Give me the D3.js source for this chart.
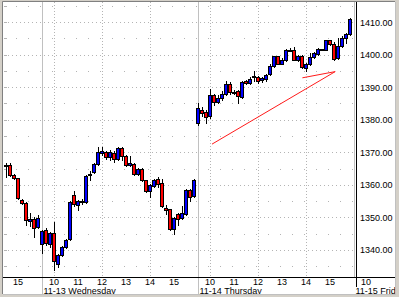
<!DOCTYPE html>
<html>
<head>
<meta charset="utf-8">
<script src="https://cdn.jsdelivr.net/npm/d3@7.9.0/dist/d3.min.js"></script>
<style>
  html, body { margin: 0; padding: 0; background: #d4d0c8; }
  svg { display: block; }
  text { font-family: "Liberation Sans", Arial, sans-serif; font-size: 9px; fill: #000; }
</style>
</head>
<body>
<svg id="chart" width="399" height="297"></svg>
<script>
// 10-minute bars: 9 from 11-12 afternoon, then 11-13 and 11-14 full sessions
const opens = [
  1366.1, 1366.1, 1363.0, 1362.0, 1355.2, 1354.3, 1349.0, 1349.4, 1347.0,
  1341.9, 1346.0, 1341.7, 1345.2, 1335.7, 1338.3, 1341.0, 1343.4, 1357.0, 1353.7,
  1354.7, 1354.7, 1363.0, 1364.0, 1366.4, 1369.8, 1370.2, 1368.4, 1369.9, 1367.9,
  1371.3, 1368.9, 1366.0, 1366.4, 1363.2, 1365.0, 1361.4, 1358.1, 1359.7, 1361.9,
  1360.4, 1353.0, 1352.4, 1346.3, 1350.9, 1349.9, 1351.1, 1358.3, 1356.6,
  1379.0, 1383.0, 1382.3, 1381.0, 1387.7, 1385.6, 1386.6, 1388.0, 1391.1, 1388.6,
  1388.7, 1387.0, 1391.8, 1391.3, 1393.3, 1393.1, 1392.1, 1392.5, 1394.0, 1396.6,
  1399.5, 1397.2, 1398.5, 1401.5, 1401.3, 1398.5, 1399.7, 1395.9, 1397.2, 1399.3,
  1400.3, 1401.7, 1401.6, 1404.4, 1403.3, 1399.0, 1402.6, 1405.2, 1406.4
];
const highs = [
  1366.6, 1366.6, 1363.2, 1362.2, 1355.7, 1354.7, 1351.3, 1350.0, 1350.8,
  1346.1, 1346.8, 1345.5, 1348.6, 1338.6, 1341.3, 1343.3, 1355.0, 1358.0, 1355.2,
  1355.5, 1362.9, 1364.3, 1366.8, 1371.7, 1371.5, 1370.5, 1370.6, 1370.3, 1371.6,
  1371.6, 1369.2, 1369.0, 1366.8, 1365.3, 1365.3, 1361.6, 1360.2, 1361.7, 1362.3,
  1361.8, 1353.8, 1352.7, 1350.2, 1351.2, 1353.5, 1358.6, 1358.7, 1361.7,
  1385.0, 1384.0, 1383.0, 1389.4, 1388.0, 1387.5, 1388.7, 1391.8, 1391.5, 1389.1,
  1389.0, 1392.0, 1392.2, 1393.0, 1395.0, 1393.3, 1393.0, 1394.0, 1397.0, 1399.7,
  1399.7, 1399.0, 1401.9, 1402.2, 1402.3, 1400.0, 1400.0, 1397.5, 1400.5, 1400.8,
  1402.0, 1401.9, 1404.6, 1404.6, 1403.8, 1405.2, 1405.8, 1406.6, 1411.2
];
const lows = [
  1362.5, 1362.8, 1361.8, 1355.5, 1354.2, 1347.5, 1347.2, 1343.9, 1346.8,
  1339.0, 1341.5, 1341.0, 1333.9, 1334.8, 1338.0, 1340.7, 1343.0, 1353.6, 1352.2,
  1354.0, 1354.5, 1361.6, 1363.5, 1366.0, 1369.2, 1368.0, 1367.5, 1366.9, 1367.5,
  1367.5, 1365.8, 1365.7, 1363.0, 1363.0, 1361.3, 1357.8, 1356.3, 1359.4, 1359.3,
  1353.2, 1350.9, 1346.0, 1345.0, 1347.6, 1349.6, 1350.8, 1355.0, 1356.3,
  1378.5, 1381.0, 1379.0, 1380.5, 1384.6, 1385.0, 1386.0, 1387.5, 1388.0, 1388.0,
  1385.3, 1386.8, 1391.0, 1391.0, 1391.8, 1391.3, 1391.5, 1392.0, 1393.8, 1396.3,
  1397.0, 1397.0, 1398.0, 1401.0, 1398.3, 1398.0, 1395.8, 1395.0, 1396.8, 1399.0,
  1400.0, 1401.3, 1401.3, 1403.0, 1398.5, 1398.8, 1402.5, 1403.6, 1406.0
];
const closes = [
  1366.0, 1363.0, 1362.0, 1355.8, 1354.5, 1349.1, 1349.4, 1346.8, 1349.9,
  1345.8, 1342.1, 1345.2, 1336.5, 1338.3, 1340.8, 1342.9, 1354.7, 1354.0, 1354.9,
  1354.9, 1362.7, 1363.4, 1366.4, 1370.0, 1370.3, 1368.4, 1370.2, 1367.8, 1371.3,
  1368.9, 1366.1, 1366.8, 1363.2, 1365.0, 1361.6, 1358.1, 1359.9, 1361.4, 1360.1,
  1353.5, 1352.3, 1346.3, 1349.9, 1349.6, 1351.3, 1358.3, 1356.1, 1361.4,
  1383.5, 1382.0, 1380.8, 1387.7, 1385.6, 1386.6, 1388.0, 1391.1, 1388.4, 1388.4,
  1387.4, 1391.5, 1391.3, 1392.6, 1393.2, 1391.8, 1392.8, 1393.8, 1396.6, 1399.5,
  1397.2, 1398.5, 1401.6, 1401.4, 1398.5, 1399.7, 1396.2, 1397.2, 1399.3, 1400.5,
  1401.8, 1401.6, 1404.4, 1403.3, 1398.7, 1402.6, 1405.2, 1406.4, 1411.0
];

// price ticks on the right
const priceTicks = [1340, 1350, 1360, 1370, 1380, 1390, 1400, 1410];
const minorTicks = [1335, 1345, 1355, 1365, 1375, 1385, 1395, 1405, 1415];

// sessions: bar index of the 9:30 bar, date label
const dayStarts = [9, 48, 87];
const dayLabels = ['11-13 Wednesday', '11-14 Thursday', '11-15 Friday'];

// hour labels along the bottom (bar index of the hour)
const hourIdx = [3, 12, 18, 24, 30, 36, 42, 51, 57, 63, 69, 75, 81, 90];
const hourLabels = ['15', '10', '11', '12', '13', '14', '15', '10', '11', '12', '13', '14', '15', '10'];
// dotted verticals at 10, 12 and 14 o'clock
const gridIdx = [12, 24, 36, 51, 63, 75];

// hand-drawn red trend line (bar index, price)
const arrowIdx = [51.5, 82.3, 74.1];
const arrowPrice = [1372.5, 1394.8, 1392.9];

const svg = d3.select('#chart');
const pLeft = 3, pRight = 395, pTop = 2, pBottom = 294;
const plotRight = 357, plotBottom = 277;

let x = d3.scaleLinear().domain([0, 87]).range([6, 354]);
let y = d3.scaleLinear().domain([1340, 1410]).range([249.8, 22.2]);
const crisp = (v) => Math.round(v) + 0.5;

// panel
svg.append('rect')
  .attr('x', pLeft).attr('y', pTop)
  .attr('width', pRight - pLeft).attr('height', pBottom - pTop)
  .attr('fill', '#fff');
svg.append('path')
  .attr('d', `M${pLeft - 0.5},${pBottom} V${pTop - 0.5} H${pRight}`)
  .attr('stroke', '#808080').attr('fill', 'none');
svg.append('path')
  .attr('d', `M${pLeft},${pBottom + 0.5} H${pRight + 0.5} V${pTop}`)
  .attr('stroke', '#c0c0c0').attr('fill', 'none');

let clip = svg.append('clipPath').attr('id', 'panel');
clip.append('rect').attr('x', pLeft).attr('y', pTop).attr('width', pRight - pLeft).attr('height', pBottom - pTop);
let g = svg.append('g').attr('clip-path', 'url(#panel)');

// horizontal grid
minorTicks.forEach((v) => {
  g.append('line')
    .attr('x1', pLeft + 1).attr('x2', plotRight)
    .attr('y1', crisp(y(v))).attr('y2', crisp(y(v)))
    .attr('stroke', '#b4b4b4').attr('stroke-dasharray', '1,11');
});
priceTicks.forEach((v) => {
  g.append('line')
    .attr('x1', pLeft + 1).attr('x2', plotRight)
    .attr('y1', crisp(y(v))).attr('y2', crisp(y(v)))
    .attr('stroke', '#b4b4b4').attr('stroke-dasharray', '1,3');
});
priceTicks.concat(minorTicks).forEach((v) => {
  g.append('line')
    .attr('x1', pLeft + 1).attr('x2', pLeft + 4)
    .attr('y1', crisp(y(v))).attr('y2', crisp(y(v)))
    .attr('stroke', '#b4b4b4');
});

// vertical grid
gridIdx.forEach((i) => {
  g.append('line')
    .attr('x1', crisp(x(i))).attr('x2', crisp(x(i)))
    .attr('y1', pTop).attr('y2', plotBottom)
    .attr('stroke', '#b4b4b4').attr('stroke-dasharray', '1,2');
});
dayStarts.forEach((i, k) => {
  g.append('line')
    .attr('x1', crisp(x(i))).attr('x2', crisp(x(i)))
    .attr('y1', pTop).attr('y2', k < 2 ? pBottom : plotBottom)
    .attr('stroke', '#c0c0c0');
});

// candles
opens.forEach((o, i) => {
  let c = closes[i];
  let cx = Math.round(x(i));
  g.append('line')
    .attr('x1', cx + 0.5).attr('x2', cx + 0.5)
    .attr('y1', Math.round(y(highs[i]))).attr('y2', Math.round(y(lows[i])) + 1)
    .attr('stroke', '#000');
  let yTop = Math.round(y(Math.max(o, c)));
  let yBot = Math.round(y(Math.min(o, c)));
  g.append('rect')
    .attr('x', cx - 1.5).attr('y', yTop + 0.5)
    .attr('width', 3).attr('height', Math.max(yBot - yTop, 1))
    .attr('fill', c >= o ? '#0000ff' : '#ff0000')
    .attr('stroke', '#000');
});

// axes
g.append('line')
  .attr('x1', pLeft).attr('x2', pRight)
  .attr('y1', plotBottom + 0.5).attr('y2', plotBottom + 0.5)
  .attr('stroke', '#000');
g.append('line')
  .attr('x1', plotRight - 0.5).attr('x2', plotRight - 0.5)
  .attr('y1', pTop).attr('y2', 287)
  .attr('stroke', '#000');

priceTicks.forEach((v) => {
  g.append('text')
    .attr('x', 360).attr('y', y(v) + 3.5)
    .text(v.toFixed(2));
});

hourIdx.forEach((i, k) => {
  g.append('text')
    .attr('x', x(i)).attr('y', 284.5)
    .attr('text-anchor', 'middle')
    .text(hourLabels[k]);
});
dayStarts.forEach((i, k) => {
  g.append('text')
    .attr('x', x(i) + 1.5).attr('y', 293.5)
    .text(dayLabels[k]);
});

// red annotation
let line = d3.line().x((d) => x(d[0])).y((d) => y(d[1]));
g.append('path')
  .attr('d', line(arrowIdx.map((d, k) => [d, arrowPrice[k]])))
  .attr('fill', 'none')
  .attr('stroke', '#ff1a1a')
  .attr('stroke-width', 1);
</script>
</body>
</html>
